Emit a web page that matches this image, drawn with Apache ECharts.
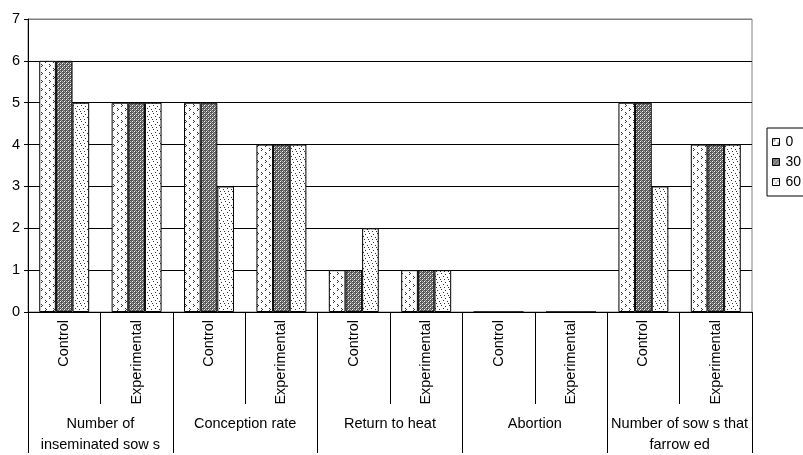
<!DOCTYPE html>
<html>
<head>
<meta charset="utf-8">
<script src="https://cdn.jsdelivr.net/npm/echarts@6/dist/echarts.min.js"></script>
<style>
html,body{margin:0;padding:0;background:#fff;}
#chart{width:803px;height:455px;}
</style>
</head>
<body>
<div id="chart"></div>
<script>
// ---- data ----
var subCategories = ["Control","Experimental","Control","Experimental","Control","Experimental","Control","Experimental","Control","Experimental"];
var groupCategories = ["Number of\ninseminated sow s","Conception rate","Return to heat","Abortion","Number of sow s that\nfarrow ed"];
var seriesNames = ["0","30","60"];
var values0  = [6,5,5,4,1,1,0,0,5,4];
var values30 = [6,5,5,4,1,1,0,0,5,4];
var values60 = [5,5,3,4,2,1,0,0,3,4];
var yTicks = [0,1,2,3,4,5,6,7];

// ---- patterns ----
function makePattern(size, bg, pixels, fg) {
  var c = document.createElement('canvas');
  c.width = size; c.height = size;
  var ctx = c.getContext('2d');
  ctx.fillStyle = bg; ctx.fillRect(0,0,size,size);
  ctx.fillStyle = fg;
  pixels.forEach(function(p){ ctx.fillRect(p[0],p[1],1,1); });
  return {image: c, repeat: 'repeat'};
}
var pat0 = makePattern(8, '#ffffff', [[1,0],[2,1],[1,2],[5,4],[6,5],[5,6]], '#333333');
var pat30 = (function(){
  var c = document.createElement('canvas');
  c.width = 4; c.height = 4;
  var ctx = c.getContext('2d');
  ctx.fillStyle = '#555555'; ctx.fillRect(0,0,4,4);
  ctx.fillStyle = '#a8a8a8';
  ctx.fillRect(1,0,1,1); ctx.fillRect(3,2,1,1); ctx.fillRect(2,1,1,1); ctx.fillRect(0,3,1,1);
  ctx.fillStyle = '#ffffff';
  ctx.fillRect(0,1,1,1); ctx.fillRect(2,3,1,1);
  return {image: c, repeat: 'repeat'};
})();
var pat60 = makePattern(8, '#ffffff', [[1,1],[5,2],[3,4],[7,5],[0,7],[4,7]], '#333333');
var patterns = [pat0, pat30, pat60];
var seriesData = [values0, values30, values60];

var font = '"Liberation Sans", Arial, sans-serif';
var chart = echarts.init(document.getElementById('chart'), null, {renderer: 'canvas'});
var option = {
  animation: false,
  backgroundColor: '#ffffff',
  textStyle: {fontFamily: font, color: '#000'},
  grid: {left: 28, right: 51, top: 19, bottom: 141, show: true, borderColor: '#808080', borderWidth: 1},
  legend: {
    orient: 'vertical',
    left: 767, top: 128,
    padding: [7, 30, 7, 5],
    borderColor: '#000', borderWidth: 1,
    itemWidth: 7, itemHeight: 7, itemGap: 6,
    textStyle: {fontFamily: font, fontSize: 14, color: '#000', padding: [0,0,0,1]},
    data: seriesNames.map(function(n){ return {name: n, icon: 'rect', itemStyle: {borderColor: '#000', borderWidth: 1}}; })
  },
  xAxis: [
    {
      type: 'category',
      data: subCategories,
      position: 'bottom',
      axisLine: {show: true, lineStyle: {color: '#000', width: 1}},
      axisTick: {show: true, length: 92, interval: 0, lineStyle: {color: '#000'}},
      axisLabel: {interval: 0, rotate: 90, margin: 8, fontSize: 14.5, fontFamily: font, color: '#000'}
    },
    {
      type: 'category',
      data: groupCategories,
      position: 'bottom',
      axisLine: {show: false},
      axisTick: {show: true, length: 141, interval: 0, lineStyle: {color: '#000'}},
      axisLabel: {interval: 0, margin: 101, fontSize: 14.5, lineHeight: 21, fontFamily: font, color: '#000'}
    }
  ],
  yAxis: {
    type: 'value',
    min: 0, max: 7, interval: 1,
    axisLine: {show: true, lineStyle: {color: '#000'}},
    axisTick: {show: true, length: 4, lineStyle: {color: '#000'}},
    axisLabel: {fontSize: 14.5, fontFamily: font, color: '#000', margin: 8},
    splitLine: {show: true, lineStyle: {color: ['#000','#000','#000','#000','#000','#000','#000','#808080'], width: 1}}
  },
  series: seriesNames.map(function(n, i){
    return {
      name: n,
      type: 'bar',
      xAxisIndex: 0,
      data: seriesData[i],
      barGap: '0%',
      barCategoryGap: '31%',
      itemStyle: {color: patterns[i], borderColor: '#000', borderWidth: 1}
    };
  })
};
chart.setOption(option);
</script>
</body>
</html>
